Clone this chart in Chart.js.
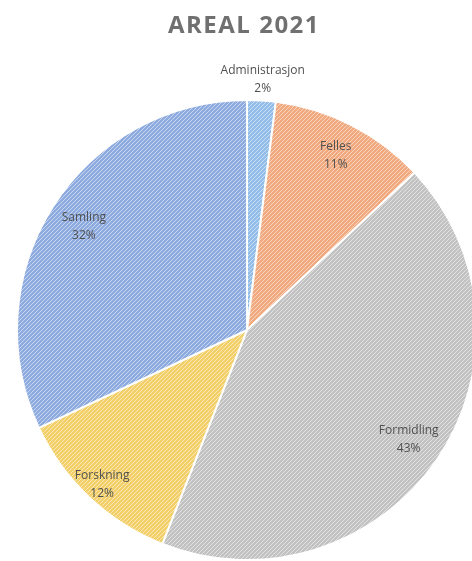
<!DOCTYPE html>
<html>
<head>
<meta charset="utf-8">
<script src="https://cdn.jsdelivr.net/npm/chart.js@4.4.1/dist/chart.umd.min.js"></script>
<style>
  html, body { margin: 0; padding: 0; background: #fff; overflow: hidden; }
  #wrap { position: relative; width: 494px; height: 561px; }
</style>
</head>
<body>
<div id="wrap"><canvas id="areal" width="494" height="561"></canvas></div>
<script>
const titleText = 'AREAL 2021';
const categories = ['Administrasjon', 'Felles', 'Formidling', 'Forskning', 'Samling'];
const shares = [2, 11, 43, 12, 32];
const pctLabels = ['2%', '11%', '43%', '12%', '32%'];

const sliceColors = ['#92bde8', '#f1a97f', '#c2c2c2', '#f2cf68', '#8eabdf'];
// how far out (fraction of radius) each label sits, Excel "best fit" style
const labelRadius = [1.09, 0.85, 0.85, 0.92, 0.84];

// diagonal hatch like the excel texture fill
function hatch(color) {
    const c = document.createElement('canvas');
    c.width = 4; c.height = 4;
    const g = c.getContext('2d');
    g.fillStyle = color;
    g.fillRect(0, 0, 4, 4);
    g.strokeStyle = 'rgba(255,255,255,0.5)';
    g.lineWidth = 1;
    g.beginPath();
    g.moveTo(-1, 5); g.lineTo(5, -1);
    g.moveTo(-1, 1); g.lineTo(1, -1);
    g.moveTo(3, 5); g.lineTo(5, 3);
    g.stroke();
    return g.createPattern(c, 'repeat');
}

const titlePlugin = {
    id: 'bigTitle',
    afterDraw(chart) {
        const ctx = chart.ctx;
        ctx.save();
        ctx.font = 'bold 24px "Open Sans", sans-serif';
        ctx.fillStyle = '#707070';
        ctx.letterSpacing = '1.5px';
        ctx.textAlign = 'center';
        ctx.textBaseline = 'middle';
        ctx.fillText(titleText, 244, 26);
        ctx.restore();
    }
};

const sliceLabels = {
    id: 'sliceLabels',
    afterDatasetsDraw(chart) {
        const ctx = chart.ctx;
        const meta = chart.getDatasetMeta(0);
        ctx.save();
        ctx.font = '12px "Open Sans", sans-serif';
        ctx.fillStyle = '#505050';
        ctx.textAlign = 'center';
        ctx.textBaseline = 'middle';
        meta.data.forEach((arc, i) => {
            const p = arc.getProps(['x', 'y', 'startAngle', 'endAngle', 'outerRadius'], true);
            const mid = (p.startAngle + p.endAngle) / 2;
            const r = p.outerRadius * labelRadius[i];
            const x = p.x + Math.cos(mid) * r;
            const y = p.y + Math.sin(mid) * r;
            ctx.fillText(categories[i], x, y - 9);
            ctx.fillText(pctLabels[i], x, y + 9);
        });
        ctx.restore();
    }
};

new Chart(document.getElementById('areal'), {
    type: 'pie',
    data: {
        labels: categories,
        datasets: [{
            data: shares,
            backgroundColor: sliceColors.map(hatch),
            borderColor: '#ffffff',
            borderWidth: 2
        }]
    },
    options: {
        responsive: false,
        animation: false,
        devicePixelRatio: 1,
        layout: { padding: { top: 99, bottom: 0, left: 0, right: 0 } },
        plugins: {
            legend: { display: false },
            tooltip: { enabled: false },
            title: { display: false }
        }
    },
    plugins: [titlePlugin, sliceLabels]
});
</script>
</body>
</html>
